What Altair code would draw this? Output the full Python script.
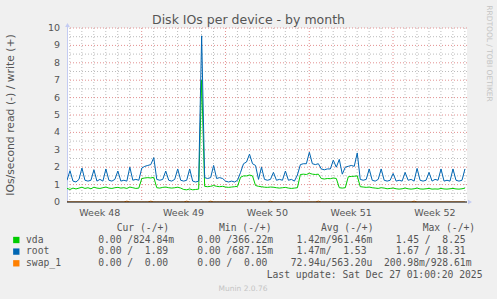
import altair as alt
import pandas as pd

# ---------------- data ----------------
# samples every 6 h from the left edge of the graph (days)
root_write = [1.25, 1.8, 1.2, 1.15, 1.3, 1.95, 1.25, 1.2, 1.25, 1.85, 1.2, 1.3, 1.2, 1.9, 1.25, 1.2,
              1.3, 1.78, 1.2, 1.25, 1.2, 2.0, 1.25, 1.3, 1.25, 1.95, 2.05, 2.1, 2.15, 2.55, 1.3, 1.25,
              1.3, 1.78, 1.25, 1.2, 1.3, 1.9, 1.25, 1.2, 1.25, 1.9, 1.2, 1.15, 1.2, 9.55, 1.4, 1.35,
              1.4, 2.1, 1.35, 1.4, 1.35, 1.2, 1.15, 1.2, 1.15, 1.25, 1.7, 2.2, 2.3, 2.75, 2.2, 2.1,
              1.3, 2.0, 1.3, 1.25, 1.3, 1.7, 1.25, 1.3, 1.25, 1.78, 1.25, 1.3, 1.2, 1.55, 2.15, 2.2,
              2.2, 2.86, 2.2, 2.15, 2.2, 1.9, 1.85, 1.9, 1.9, 2.4, 2.0, 2.45, 1.6, 2.0, 2.05, 2.1,
              2.05, 2.82, 1.3, 1.25, 1.3, 1.9, 1.25, 1.2, 1.3, 1.9, 1.25, 1.2, 1.25, 1.64, 1.2, 1.25,
              1.2, 1.7, 1.25, 1.3, 1.2, 1.93, 1.25, 1.2, 1.25, 1.7, 1.2, 1.3, 1.25, 1.9, 1.2, 1.25,
              1.2, 1.9, 1.25, 1.2, 1.25, 1.9]
vda_write = [0.78, 0.72, 0.8, 0.75, 0.8, 0.85, 0.78, 0.82, 0.76, 0.85, 0.8, 0.78, 0.82, 0.86, 0.8, 0.78,
             0.82, 0.84, 0.8, 0.82, 0.78, 0.86, 0.82, 0.78, 0.8, 1.35, 1.38, 1.4, 1.38, 1.42, 0.82, 0.8,
             0.84, 0.86, 0.82, 0.8, 0.82, 0.85, 0.8, 0.72, 0.7, 0.75, 0.7, 0.72, 0.74, 7.0, 0.9, 0.88,
             0.9, 0.95, 0.9, 0.88, 0.9, 0.86, 0.84, 0.86, 0.88, 0.9, 1.42, 1.5, 1.5, 1.55, 1.5, 0.95,
             0.9, 0.88, 0.85, 0.84, 0.86, 0.85, 0.82, 0.8, 0.82, 0.84, 0.8, 0.78, 0.8, 0.82, 1.58, 1.6,
             1.58, 1.65, 1.6, 1.58, 1.6, 1.35, 1.32, 1.35, 1.34, 1.38, 1.35, 0.82, 0.8, 0.82, 1.45, 1.47,
             1.48, 1.5, 0.88, 0.86, 0.84, 0.86, 0.82, 0.8, 0.78, 0.82, 0.8, 0.76, 0.78, 0.8, 0.76, 0.74,
             0.76, 0.8, 0.76, 0.74, 0.76, 0.8, 0.75, 0.74, 0.76, 0.78, 0.74, 0.75, 0.74, 0.78, 0.75, 0.74,
             0.76, 0.78, 0.75, 0.74, 0.76, 0.8]
swap_write = [0.0] * 134
for k in (20, 28, 40, 48, 68, 84, 116):
    swap_write[k] = 0.05

sample_days = [i * 0.25 for i in range(len(root_write))]

week_starts = [6.24, 13.24, 20.24, 27.24]
day_lines = [round(0.24 + d, 2) for d in range(34) if round(0.24 + d, 2) not in week_starts]
week_label_pos = [2.74, 9.74, 16.74, 23.74, 30.74]
week_labels = ["Week 48", "Week 49", "Week 50", "Week 51", "Week 52"]
y_ticks = [0, 1, 2, 3, 4, 5, 6, 7, 8, 9, 10]
y_major = [1, 2, 3, 4, 5, 6, 7, 8, 9, 10]
y_minor = [0.5, 1.5, 2.5, 3.5, 4.5, 5.5, 6.5, 7.5, 8.5, 9.5]

series_names = ["vda", "root", "swap_1"]
series_colors = ["#00CC00", "#0066B3", "#FF8000"]
cur_col = ["  0.00 /824.84m", "  0.00 /  1.89 ", "  0.00 /  0.00 "]
min_col = ["  0.00 /366.22m", "  0.00 /687.15m", "  0.00 /  0.00 "]
avg_col = ["  1.42m/961.46m", "  1.47m/  1.53 ", " 72.94u/563.20u"]
max_col = ["  1.45 /  8.25 ", "  1.67 / 18.31 ", "200.98m/928.61m"]
headers = ["Cur (-/+)", "Min (-/+)", "Avg (-/+)", "Max (-/+)"]
last_update = "Last update: Sat Dec 27 01:00:20 2025"

# ---------------- chart ----------------
W, H = 400, 174
XMAX = 33.42
FONT = "DejaVu Sans"
MONO = "DejaVu Sans Mono"
TXT = "#555555"
GRID = "#bcbcbc"
MGRID = "#e39090"
AXIS = "#c3cbf2"

xs = alt.Scale(domain=[0, XMAX], nice=False, zero=False)
ys = alt.Scale(domain=[0, 10], nice=False, zero=False)

df = pd.concat([
    pd.DataFrame({"t": sample_days, "v": vda_write, "s": "vda"}),
    pd.DataFrame({"t": sample_days, "v": root_write, "s": "root"}),
    pd.DataFrame({"t": sample_days, "v": swap_write, "s": "swap_1"}),
])

layers = []

def hrules(vals, color):
    return alt.Chart(pd.DataFrame({"hv": vals})).mark_rule(
        color=color, strokeDash=[1, 2], strokeWidth=1, opacity=1).encode(
        x=alt.value(0), x2=alt.value(W),
        y=alt.Y("hv:Q", scale=ys, axis=None))

def vrules(vals, color):
    return alt.Chart(pd.DataFrame({"vv": vals})).mark_rule(
        color=color, strokeDash=[1, 2], strokeWidth=1, opacity=1).encode(
        y=alt.value(0), y2=alt.value(H),
        x=alt.X("vv:Q", scale=xs, axis=None))

layers.append(hrules(y_minor, GRID))
layers.append(vrules(day_lines, GRID))
layers.append(hrules(y_major, MGRID))
layers.append(vrules(week_starts, MGRID))

# y axis line
layers.append(alt.Chart(pd.DataFrame({"a": [0]})).mark_rule(color=AXIS, strokeWidth=1).encode(
    x=alt.value(0.5), y=alt.value(-2), y2=alt.value(H)))

# y tick labels
layers.append(alt.Chart(pd.DataFrame({"yt": y_ticks})).mark_text(
    font=FONT, fontSize=9.5, color=TXT, align="right", baseline="middle", dx=-7).encode(
    x=alt.value(0), y=alt.Y("yt:Q", scale=ys, axis=None), text="yt:Q"))

# data lines
for name, col in zip(series_names, series_colors):
    layers.append(alt.Chart(df[df["s"] == name]).mark_line(
        color=col, strokeWidth=1, clip=True, interpolate="linear").encode(
        x=alt.X("t:Q", scale=xs, axis=None),
        y=alt.Y("v:Q", scale=ys, axis=None)))

# zero line
layers.append(alt.Chart(pd.DataFrame({"z": [0]})).mark_rule(color="#000000", strokeWidth=1).encode(
    x=alt.value(0), x2=alt.value(W), y=alt.Y("z:Q", scale=ys, axis=None)))

# arrows of the axes
layers.append(alt.Chart(pd.DataFrame({"a": [0]})).mark_point(
    shape="triangle-up", filled=True, color=AXIS, size=22, opacity=1).encode(
    x=alt.value(0.5), y=alt.value(-3)))
layers.append(alt.Chart(pd.DataFrame({"a": [0]})).mark_point(
    shape="triangle-right", filled=True, color=AXIS, size=22, opacity=1).encode(
    x=alt.value(W + 3), y=alt.value(H)))

# week labels
layers.append(alt.Chart(pd.DataFrame({"t": week_label_pos, "l": week_labels})).mark_text(
    font=FONT, fontSize=9.5, color=TXT, baseline="alphabetic", align="center").encode(
    x=alt.X("t:Q", scale=xs, axis=None), y=alt.value(188), text="l:N"))

def txt(s, x, y, **kw):
    opts = dict(font=FONT, fontSize=9.5, color=TXT, baseline="alphabetic", align="left")
    opts.update(kw)
    return alt.Chart(pd.DataFrame({"s": [s]})).mark_text(**opts).encode(
        x=alt.value(x), y=alt.value(y), text="s:N")

NB = "\u00a0"
# title
layers.append(txt("Disk IOs per device - by month", 181.5, -4, fontSize=12.5, align="center"))
# y title
layers.append(txt("IOs/second read (-) / write (+)", -56, 87, fontSize=10.8, align="center",
                  baseline="middle", angle=270))
# rrdtool credit
layers.append(txt("RRDTOOL / TOBI OETIKER", 421.5, 25.5, fontSize=7.5, color="#c4c4c4",
                  align="center", baseline="middle", angle=90))
# legend header
for h, hx in zip(headers, [49.7, 152, 254, 355.7]):
    layers.append(txt(h, hx, 203, font=MONO, fontSize=9.7))
# legend rows
row_base = [214.7, 226.3, 238]
for i, name in enumerate(series_names):
    row = "  ".join([cur_col[i], min_col[i], avg_col[i], max_col[i]]).replace(" ", NB)
    layers.append(txt(name, -41, row_base[i], font=MONO, fontSize=9.7))
    layers.append(txt(row, 31.2, row_base[i], font=MONO, fontSize=9.7))
    layers.append(alt.Chart(pd.DataFrame({"s": [name]})).mark_square(
        color=series_colors[i], size=40, opacity=1).encode(
        x=alt.value(-50.7), y=alt.value(row_base[i] - 2.7)))
layers.append(txt(last_update.replace(" ", NB), 415.5, 250, font=MONO, fontSize=9.7, align="right"))
layers.append(txt("Munin 2.0.76", 176, 262.5, fontSize=7.5, color="#c4c4c4", align="center"))

chart = alt.layer(*layers).properties(
    width=W, height=H,
    autosize=alt.AutoSizeParams(type="none"),
    padding={"left": 67, "top": 28, "right": 30, "bottom": 97},
    background="#F0F0F0",
).configure_view(fill="white", stroke=None)

chart.save("out.html", embed_options={"renderer": "svg", "actions": False})
